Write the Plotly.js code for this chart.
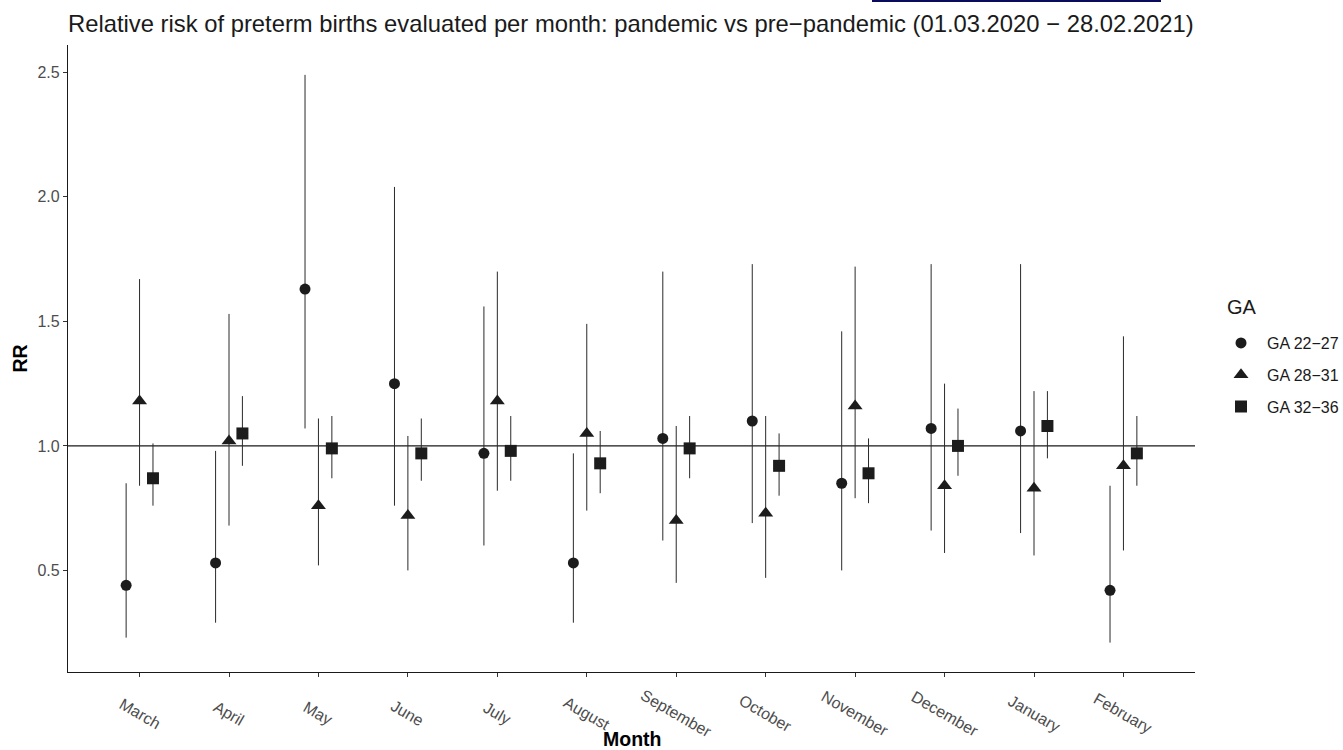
<!DOCTYPE html>
<html>
<head>
<meta charset="utf-8">
<script src="https://cdn.plot.ly/plotly-3.0.1.min.js"></script>
<style>
  html, body { margin: 0; padding: 0; background: #ffffff; }
  #chart { width: 1343px; height: 750px; }
  #topbar { position: absolute; left: 872px; top: 0px; width: 289px; height: 2px; background: #0b0b5e; z-index: 10; }
</style>
</head>
<body>
<div id="topbar"></div>
<div id="chart"></div>
<script>
// ---- data ----
const months = ["March","April","May","June","July","August","September","October","November","December","January","February"];

const ga22_rr = [0.44, 0.53, 1.63, 1.25, 0.97, 0.53, 1.03, 1.10, 0.85, 1.07, 1.06, 0.42];
const ga22_lo = [0.23, 0.29, 1.07, 0.76, 0.60, 0.29, 0.62, 0.69, 0.50, 0.66, 0.65, 0.21];
const ga22_hi = [0.85, 0.98, 2.49, 2.04, 1.56, 0.97, 1.70, 1.73, 1.46, 1.73, 1.73, 0.84];

const ga28_rr = [1.18, 1.02, 0.76, 0.72, 1.18, 1.05, 0.70, 0.73, 1.16, 0.84, 0.83, 0.92];
const ga28_lo = [0.84, 0.68, 0.52, 0.50, 0.82, 0.74, 0.45, 0.47, 0.79, 0.57, 0.56, 0.58];
const ga28_hi = [1.67, 1.53, 1.11, 1.04, 1.70, 1.49, 1.08, 1.12, 1.72, 1.25, 1.22, 1.44];

const ga32_rr = [0.87, 1.05, 0.99, 0.97, 0.98, 0.93, 0.99, 0.92, 0.89, 1.00, 1.08, 0.97];
const ga32_lo = [0.76, 0.92, 0.87, 0.86, 0.86, 0.81, 0.87, 0.80, 0.77, 0.88, 0.95, 0.84];
const ga32_hi = [1.01, 1.20, 1.12, 1.11, 1.12, 1.06, 1.12, 1.05, 1.03, 1.15, 1.22, 1.12];

const groupNames = ["GA 22\u221227", "GA 28\u221231", "GA 32\u221236"];
const yTicks = [0.5, 1.0, 1.5, 2.0, 2.5];
const refValue = 1.0;

// ---- build ----
const ink = "#1c1c1c";
const dodge = 0.15;
const FONT = "Liberation Sans, Arial, Helvetica, sans-serif";

// plot area geometry (pixels) used to place free text
const PL = 68, PR = 1195, PT = 45, PB = 672;
const pw = PR - PL, ph = PB - PT;
const px = v => (v - PL) / pw;
const py = v => (PB - v) / ph;

function makeTrace(name, rr, lo, hi, offset, symbol, size, group) {
  return {
    type: "scatter",
    mode: "markers",
    name: name,
    legendgroup: group,
    x: months.map((m, i) => i + offset),
    y: rr,
    error_y: {
      type: "data",
      symmetric: false,
      array: hi.map((h, i) => h - rr[i]),
      arrayminus: lo.map((l, i) => rr[i] - l),
      width: 0,
      thickness: 1,
      color: "#2a2a2a"
    },
    marker: { symbol: symbol, size: size, color: ink, line: { width: 0 } },
    hoverinfo: "skip"
  };
}

const traces = [
  makeTrace(groupNames[0], ga22_rr, ga22_lo, ga22_hi, -dodge, "circle", 11, "g1"),
  makeTrace(groupNames[1], ga28_rr, ga28_lo, ga28_hi, 0, "triangle-up", 13, "g2"),
  makeTrace(groupNames[2], ga32_rr, ga32_lo, ga32_hi, dodge, "square", 12, "g3")
];

const annotations = months.map((m, i) => ({
  text: m,
  x: i,
  xref: "x",
  y: py(713),
  yref: "paper",
  xanchor: "center",
  yanchor: "middle",
  textangle: 30,
  showarrow: false,
  font: { family: FONT, size: 16, color: "#4d4d4d" }
}));

annotations.push({
  text: "<b>Month</b>",
  x: 0.5, xref: "paper",
  y: py(739), yref: "paper",
  xanchor: "center", yanchor: "middle",
  showarrow: false,
  font: { family: FONT, size: 19.5, color: "#000000" }
});
annotations.push({
  text: "<b>RR</b>",
  x: px(19), xref: "paper",
  y: 0.5, yref: "paper",
  xanchor: "center", yanchor: "middle",
  textangle: -90,
  showarrow: false,
  font: { family: FONT, size: 19.5, color: "#000000" }
});
annotations.push({
  text: "GA",
  x: px(1225), xref: "paper",
  y: py(307), yref: "paper",
  xanchor: "left", yanchor: "middle",
  showarrow: false,
  font: { family: FONT, size: 20, color: "#1a1a1a" }
});

const layout = {
  width: 1343,
  height: 750,
  margin: { l: PL, r: 1343 - PR, t: PT, b: 750 - PB, autoexpand: false },
  paper_bgcolor: "#ffffff",
  plot_bgcolor: "#ffffff",
  font: { family: FONT, color: "#1a1a1a" },
  title: {
    text: "Relative risk of preterm births evaluated per month: pandemic vs pre\u2212pandemic (01.03.2020 \u2212 28.02.2021)",
    x: 68 / 1343,
    xanchor: "left",
    xref: "container",
    y: 1 - 23.5 / 750,
    yref: "container",
    yanchor: "middle",
    font: { family: FONT, size: 23.8, color: "#1a1a1a" }
  },
  xaxis: {
    range: [-0.8, 11.8],
    tickvals: months.map((m, i) => i),
    ticktext: months.map(() => ""),
    ticks: "outside",
    ticklen: 4,
    tickwidth: 1,
    tickcolor: "#333333",
    showline: true,
    linecolor: "#1a1a1a",
    linewidth: 1.1,
    showgrid: false,
    zeroline: false
  },
  yaxis: {
    range: [0.092, 2.61],
    tickvals: yTicks,
    ticktext: yTicks.map(v => v.toFixed(1)),
    ticks: "outside",
    ticklen: 4,
    tickwidth: 1,
    tickcolor: "#333333",
    tickfont: { family: FONT, size: 16, color: "#4d4d4d" },
    showline: true,
    linecolor: "#1a1a1a",
    linewidth: 1.1,
    showgrid: false,
    zeroline: false
  },
  shapes: [{
    type: "line",
    xref: "paper", x0: 0, x1: 1,
    yref: "y", y0: refValue, y1: refValue,
    line: { color: "#1a1a1a", width: 1.4 },
    layer: "below"
  }],
  annotations: annotations,
  showlegend: true,
  legend: {
    x: px(1215),
    xanchor: "left",
    y: py(326),
    yanchor: "top",
    itemwidth: 42,
    font: { family: FONT, size: 16, color: "#1a1a1a" },
    tracegroupgap: 8,
    traceorder: "grouped",
    bgcolor: "rgba(0,0,0,0)"
  }
};

Plotly.newPlot("chart", traces, layout, { displayModeBar: false, staticPlot: true });
</script>
</body>
</html>
